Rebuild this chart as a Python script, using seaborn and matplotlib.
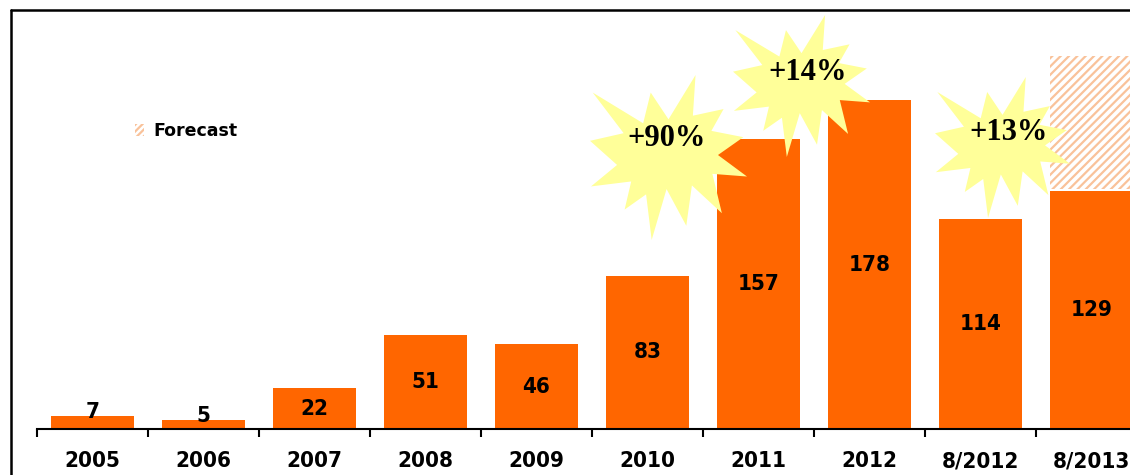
# Bar chart with forecast bar and growth "explosion" callouts
import matplotlib.pyplot as plt
import numpy as np
import seaborn as sns
from matplotlib.lines import Line2D
from matplotlib.patches import Patch, Polygon

periods = ["2005", "2006", "2007", "2008", "2009", "2010", "2011", "2012", "8/2012", "8/2013"]
values = [7, 5, 22, 51, 46, 83, 157, 178, 114, 129]
forecast_period = "8/2013"
forecast_total = 201
growth_labels = ["+90%", "+14%", "+13%"]

BAR_COLOR = "#FF6600"
HATCH_COLOR = "#F9C29A"
STAR_COLOR = "#FFFF99"

W, H = 1130, 475

# PowerPoint "Explosion 1" outline, in a 21600 x 21600 box (y pointing down)
SEAL = [(10800, 5800), (8352, 2295), (7312, 6320), (370, 2295), (4627, 7617),
        (0, 8615), (3722, 11775), (135, 14587), (5667, 13937), (4762, 17617),
        (7715, 15627), (8485, 21600), (10532, 14935), (13247, 19737),
        (14020, 14457), (18145, 18095), (16837, 12942), (21600, 13290),
        (17607, 10475), (21097, 8137), (16702, 7315), (18380, 4457),
        (14155, 5325), (14522, 0)]


def fig_xy(x, y):
    # pixel position (from top left) -> figure fraction
    return x / W, 1 - y / H


sns.set_style("white")
plt.rcParams["hatch.linewidth"] = 1.6
plt.rcParams["text.color"] = "black"
plt.rcParams["xtick.color"] = "black"

fig = plt.figure(figsize=(W / 100, H / 100), dpi=100)
ax = fig.add_axes([37 / W, 46 / H, 1110 / W, 419 / H])

sns.barplot(x=periods, y=values, color=BAR_COLOR, saturation=1, width=0.74,
            linewidth=0, ax=ax)

# forecast part on top of the last bar
fi = periods.index(forecast_period)
ax.bar(fi, forecast_total - values[fi], bottom=values[fi] + 1, width=0.74,
       facecolor="white", edgecolor=HATCH_COLOR, hatch="////", linewidth=0)

ax.set_ylim(0, 227)
ax.set_xlim(-0.5, len(periods) - 0.5)

label_font = dict(family=["DejaVu Sans"], fontstretch="condensed",
                  fontweight="bold", fontsize=16, color="black")
for i, v in enumerate(values):
    if v < 15:
        ax.text(i, v - 1, str(v), ha="center", va="baseline", **label_font)
    else:
        ax.text(i, v / 2, str(v), ha="center", va="center", **label_font)

# ticks between categories, labels at the centres
ax.set_xticks(np.arange(len(periods) + 1) - 0.5, labels=[""] * (len(periods) + 1))
ax.set_xticks(range(len(periods)), labels=periods, minor=True)
ax.tick_params(axis="x", which="major", direction="out", length=6, width=1.5,
               color="black", bottom=True)
ax.tick_params(axis="x", which="minor", length=0, pad=16)
for t in ax.get_xticklabels(minor=True):
    t.set(**label_font)
ax.set_yticks([])
ax.set_xlabel("")
ax.set_ylabel("")
sns.despine(ax=ax, left=True, top=True, right=True)
ax.spines["bottom"].set_color("black")
ax.spines["bottom"].set_linewidth(1.5)

# growth callouts
bursts = [((590, 75, 157, 165), (667, 138)),
          ((733, 15, 137, 142), (808, 72)),
          ((935, 77, 135, 141), (1009, 133))]
for (x0, y0, bw, bh), (tx, ty) in bursts:
    pts = [fig_xy(x0 + bw * sx / 21600, y0 + bh * sy / 21600) for sx, sy in SEAL]
    fig.add_artist(Polygon(pts, closed=True, facecolor=STAR_COLOR,
                           edgecolor="none", transform=fig.transFigure, zorder=5))
for label, (_, (tx, ty)) in zip(growth_labels, bursts):
    fig.text(*fig_xy(tx, ty), label, ha="center", va="center", color="black",
             family=["Liberation Serif", "DejaVu Serif"], fontweight="bold",
             fontsize=22, zorder=6)

# legend
ax.legend(handles=[Patch(facecolor="white", edgecolor=HATCH_COLOR, hatch="/////",
                         linewidth=0, label="Forecast")],
          loc="center left", bbox_to_anchor=fig_xy(135, 131),
          bbox_transform=fig.transFigure, frameon=False, borderpad=0,
          borderaxespad=0, handlelength=0.5, handleheight=0.65,
          handletextpad=0.55, labelcolor="black",
          prop=dict(family="DejaVu Sans", weight="bold", size=12.5))

# frame lines at the left and top of the picture
fig.add_artist(Line2D([fig_xy(10.5, 0)[0]] * 2, [0, fig_xy(0, 9.5)[1]],
                      color="black", linewidth=1.8, transform=fig.transFigure))
fig.add_artist(Line2D([fig_xy(10.5, 0)[0], 1], [fig_xy(0, 9.5)[1]] * 2,
                      color="black", linewidth=1.8, transform=fig.transFigure))

fig.savefig("out.png", dpi=100)
